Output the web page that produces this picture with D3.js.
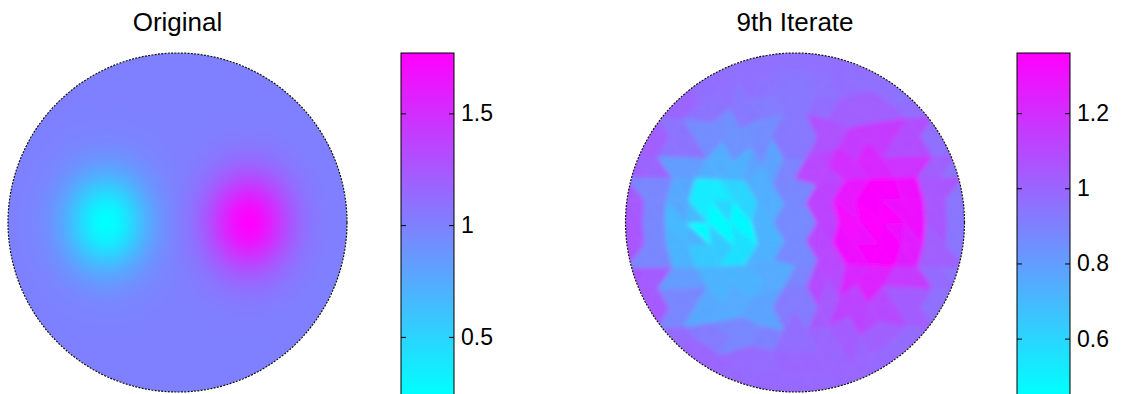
<!DOCTYPE html>
<html>
<head>
<meta charset="utf-8">
<script src="https://cdn.jsdelivr.net/npm/d3@7"></script>
<style>
  html, body { margin: 0; padding: 0; background: #fff; }
  svg { display: block; font-family: "Liberation Sans", Arial, sans-serif; }
</style>
</head>
<body>
<svg id="fig" width="1121" height="394"></svg>
<script>
// ---- Panel titles ----
const titles = ["Original", "9th Iterate"];

// ---- Original conductivity: uniform background with two Gaussian inclusions ----
const origBackground = 1.0;
const origBlobX = [-0.42, 0.42];
const origBlobY = [0.0, 0.0];
const origBlobAmp = [-0.765, 0.765];
const origBlobSigmaX = [0.17, 0.17];
const origBlobSigmaY = [0.2, 0.2];
const origRange = [0.24, 1.77];
const origTicks = [0.5, 1, 1.5];

// ---- 9th iterate: element conductivities sampled on a 13 x 13 grid over the disc ----
const iterRange = [0.45, 1.36];
const iterTicks = [0.6, 0.8, 1, 1.2];
const iterGridX = [-1, -0.833, -0.667, -0.5, -0.333, -0.167, 0, 0.167, 0.333, 0.5, 0.667, 0.833, 1];
const iterGridY = [-1, -0.833, -0.667, -0.5, -0.333, -0.167, 0, 0.167, 0.333, 0.5, 0.667, 0.833, 1];
const iterValues = [
  [0.96, 0.96, 0.96, 0.96, 0.96, 0.96, 0.96, 0.96, 0.96, 0.96, 0.96, 0.96, 0.96],
  [1.00, 1.00, 1.00, 0.97, 0.96, 0.95, 0.94, 0.95, 0.97, 0.96, 0.95, 0.95, 0.95],
  [1.00, 1.00, 1.00, 0.95, 0.93, 0.92, 0.93, 0.97, 1.02, 1.02, 0.97, 0.95, 0.95],
  [1.00, 1.02, 0.95, 0.86, 0.84, 0.86, 0.93, 1.07, 1.15, 1.15, 1.08, 0.96, 0.95],
  [1.02, 1.00, 0.80, 0.74, 0.73, 0.78, 0.89, 1.11, 1.20, 1.22, 1.18, 1.02, 0.95],
  [1.04, 0.88, 0.76, 0.52, 0.60, 0.74, 0.88, 1.12, 1.28, 1.34, 1.30, 1.05, 0.94],
  [1.05, 0.88, 0.70, 0.46, 0.47, 0.72, 0.87, 1.12, 1.32, 1.36, 1.30, 1.05, 0.94],
  [1.05, 0.88, 0.72, 0.64, 0.56, 0.73, 0.87, 1.11, 1.30, 1.34, 1.25, 1.02, 0.94],
  [1.05, 1.03, 0.80, 0.72, 0.72, 0.75, 0.89, 1.09, 1.22, 1.24, 1.15, 0.98, 0.95],
  [1.04, 1.04, 0.88, 0.76, 0.75, 0.78, 0.92, 1.04, 1.12, 1.10, 1.03, 0.96, 0.95],
  [1.00, 1.02, 0.98, 0.92, 0.88, 0.90, 0.97, 1.00, 1.03, 1.02, 0.98, 0.96, 0.96],
  [1.00, 1.00, 1.00, 1.00, 0.98, 0.98, 1.00, 1.00, 1.00, 0.99, 0.98, 0.98, 0.98],
  [0.99, 0.99, 0.99, 0.99, 0.99, 0.99, 0.99, 0.99, 0.99, 0.99, 0.99, 0.99, 0.99]
];
const meshRings = 8;   // concentric node rings of the finite element mesh

// ---- Layout ----
const svg = d3.select("#fig");
const barW = 53, barTop = 53, barBottom = 395;
const panels = [
  { title: titles[0], cx: 177.5, cy: 222.5, r: 169.5, barX: 401,  range: origRange, ticks: origTicks },
  { title: titles[1], cx: 795,   cy: 222.5, r: 169.5, barX: 1017, range: iterRange, ticks: iterTicks }
];
const defs = svg.append("defs");
defs.append("filter").attr("id", "soft").attr("x", "-5%").attr("y", "-5%").attr("width", "110%").attr("height", "110%")
  .append("feGaussianBlur").attr("stdDeviation", 2.2);

panels.forEach((p, k) => {
  // MATLAB-style "cool" colormap: cyan -> magenta
  p.color = d3.scaleLinear().domain(p.range).range(["#00ffff", "#ff00ff"]).clamp(true);
  p.x = d3.scaleLinear().domain([-1, 1]).range([p.cx - p.r, p.cx + p.r]);
  p.y = d3.scaleLinear().domain([-1, 1]).range([p.cy - p.r, p.cy + p.r]);
  defs.append("clipPath").attr("id", "disc" + k)
    .append("circle").attr("cx", p.cx).attr("cy", p.cy).attr("r", p.r);
  svg.append("text")
    .attr("x", p.cx).attr("y", 31)
    .attr("text-anchor", "middle")
    .attr("font-size", 26)
    .text(p.title);
});

// ---- Left: smooth conductivity field rendered to a raster ----
(function drawOriginal() {
  const p = panels[0];
  const size = Math.ceil(2 * p.r);
  const x0 = p.cx - p.r, y0 = p.cy - p.r;
  const cv = document.createElement("canvas");
  cv.width = size; cv.height = size;
  const ctx = cv.getContext("2d");
  const img = ctx.createImageData(size, size);
  for (let py = 0; py < size; py++) {
    for (let px = 0; px < size; px++) {
      const u = p.x.invert(x0 + px + 0.5);
      const w = p.y.invert(y0 + py + 0.5);
      let v = origBackground;
      for (let b = 0; b < origBlobX.length; b++) {
        const dx = (u - origBlobX[b]) / origBlobSigmaX[b];
        const dy = (w - origBlobY[b]) / origBlobSigmaY[b];
        v += origBlobAmp[b] * Math.exp(-0.5 * (dx * dx + dy * dy));
      }
      const c = d3.rgb(p.color(v));
      const i = 4 * (py * size + px);
      img.data[i] = c.r; img.data[i + 1] = c.g; img.data[i + 2] = c.b; img.data[i + 3] = 255;
    }
  }
  ctx.putImageData(img, 0, 0);
  svg.append("g").attr("clip-path", "url(#disc0)")
    .append("image")
    .attr("x", x0).attr("y", y0)
    .attr("width", size).attr("height", size)
    .attr("href", cv.toDataURL());
})();

// ---- Right: piecewise-constant values on a ring triangulation ----
(function drawIterate() {
  const p = panels[1];
  const nodes = [[0, 0]];
  const ringStart = [0];
  for (let k = 1; k <= meshRings; k++) {
    ringStart.push(nodes.length);
    const n = 6 * k, rad = (k / meshRings) * 1.03;
    for (let m = 0; m < n; m++) {
      const a = 2 * Math.PI * m / n;
      nodes.push([rad * Math.cos(a), rad * Math.sin(a)]);
    }
  }
  const tris = [];
  for (let k = 1; k <= meshRings; k++) {
    const s2 = ringStart[k], n2 = 6 * k;
    if (k === 1) {
      for (let m = 0; m < n2; m++) tris.push([0, s2 + m, s2 + (m + 1) % n2]);
      continue;
    }
    const s1 = ringStart[k - 1], n1 = 6 * (k - 1);
    let i = 0, o = 0;
    while (i < n1 || o < n2) {
      const ni = (i + 1) / n1, no = (o + 1) / n2;
      if (o < n2 && (i >= n1 || no <= ni)) {
        tris.push([s1 + i % n1, s2 + o % n2, s2 + (o + 1) % n2]); o++;
      } else {
        tris.push([s1 + i % n1, s2 + o % n2, s1 + (i + 1) % n1]); i++;
      }
    }
  }
  const nearest = (arr, v) => d3.leastIndex(arr, a => Math.abs(a - v));
  const elems = tris.map(t => {
    const u = d3.mean(t, j => nodes[j][0]);
    const w = d3.mean(t, j => nodes[j][1]);
    return { t, value: iterValues[nearest(iterGridY, w)][nearest(iterGridX, u)] };
  });
  const path = e => "M" + e.t.map(j => p.x(nodes[j][0]) + "," + p.y(nodes[j][1])).join("L") + "Z";
  svg.append("g").attr("clip-path", "url(#disc1)")
    .append("g").attr("filter", "url(#soft)")
    .selectAll("path").data(elems).join("path")
    .attr("d", path)
    .attr("fill", e => p.color(e.value))
    .attr("stroke", e => p.color(e.value))
    .attr("stroke-width", 0.7)
    .attr("stroke-linejoin", "round");
})();

// ---- Disc outlines ----
panels.forEach(p => {
  svg.append("circle")
    .attr("cx", p.cx).attr("cy", p.cy).attr("r", p.r)
    .attr("fill", "none")
    .attr("stroke", "#111")
    .attr("stroke-width", 1.2)
    .attr("stroke-dasharray", "2,1.3");
});

// ---- Colour bars ----
panels.forEach((p, k) => {
  const grad = defs.append("linearGradient").attr("id", "cb" + k)
    .attr("x1", 0).attr("y1", 1).attr("x2", 0).attr("y2", 0);
  grad.append("stop").attr("offset", 0).attr("stop-color", p.color(p.range[0]));
  grad.append("stop").attr("offset", 1).attr("stop-color", p.color(p.range[1]));
  const ys = d3.scaleLinear().domain(p.range).range([barBottom, barTop]);
  svg.append("rect")
    .attr("x", p.barX).attr("y", barTop)
    .attr("width", barW).attr("height", barBottom - barTop)
    .attr("fill", "url(#cb" + k + ")")
    .attr("stroke", "#000").attr("stroke-width", 1);
  const right = svg.append("g")
    .attr("transform", `translate(${p.barX + barW},0)`)
    .call(d3.axisRight(ys).tickValues(p.ticks).tickSize(-5).tickPadding(7).tickFormat(d3.format("~g")));
  right.attr("font-size", 23).attr("font-family", null);
  right.select(".domain").remove();
  const left = svg.append("g")
    .attr("transform", `translate(${p.barX},0)`)
    .call(d3.axisLeft(ys).tickValues(p.ticks).tickSize(-5).tickFormat(""));
  left.select(".domain").remove();
});
</script>
</body>
</html>
